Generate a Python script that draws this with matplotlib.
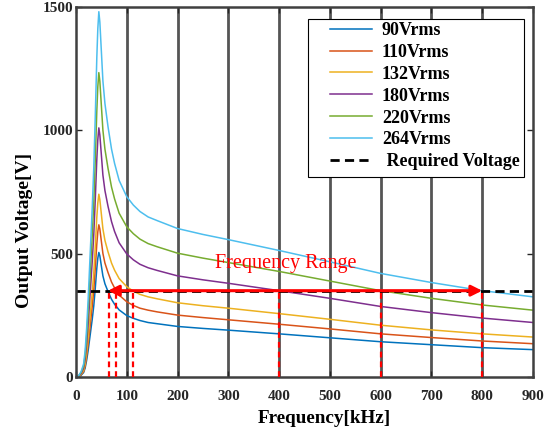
import matplotlib
matplotlib.use("Agg")
import matplotlib.pyplot as plt
from matplotlib.patches import Rectangle

plt.rcParams['font.family'] = ['Liberation Serif', 'DejaVu Serif']

# frequency points (kHz)
freq = [0, 5, 10, 15, 18, 21, 24, 26, 28, 30, 32, 35, 38, 41, 43, 45, 47, 50, 53, 57,
        63, 70, 76, 85, 100, 113, 126, 142, 160, 200, 250, 300, 400, 500, 600, 700, 800, 900]

# output voltage (V) for each input voltage
v90 = [0, 2, 7, 18, 36, 68, 108, 140, 171, 203, 234, 288, 360, 441, 482, 505, 491, 450, 410, 378,
       347, 315, 295, 272, 249, 238, 229, 221, 216, 205, 197, 190, 175, 159, 143, 131, 119, 111]
v110 = [0, 2, 9, 22, 44, 83, 132, 171, 209, 248, 286, 352, 440, 539, 589, 617, 600, 550, 501, 462,
        424, 385, 361, 332, 305, 290, 279, 271, 264, 251, 241, 232, 214, 195, 175, 160, 146, 135]
v132 = [0, 3, 11, 26, 53, 99, 158, 205, 251, 297, 343, 422, 528, 647, 706, 741, 719, 660, 601, 554,
        508, 462, 433, 399, 366, 348, 335, 325, 317, 301, 289, 279, 257, 234, 210, 191, 175, 162]
v180 = [0, 4, 14, 36, 72, 135, 216, 279, 342, 405, 468, 576, 720, 882, 963, 1010, 981, 900, 819, 756,
        693, 630, 590, 544, 499, 475, 457, 443, 432, 410, 394, 380, 350, 319, 286, 261, 239, 221]
v220 = [0, 4, 18, 44, 88, 165, 264, 341, 418, 495, 572, 704, 880, 1078, 1177, 1234, 1199, 1100, 1001, 924,
        847, 770, 722, 664, 609, 581, 559, 541, 528, 502, 482, 464, 428, 389, 350, 319, 292, 271]
v264 = [0, 5, 21, 53, 106, 198, 317, 409, 502, 594, 686, 845, 1056, 1294, 1412, 1481, 1439, 1320, 1201, 1109,
        1016, 924, 866, 797, 731, 697, 671, 649, 634, 602, 578, 557, 513, 467, 420, 383, 350, 325]

series = [v90, v110, v132, v180, v220, v264]
labels = ['90Vrms', '110Vrms', '132Vrms', '180Vrms', '220Vrms', '264Vrms']
colors = ['#0072BD', '#D95319', '#EDB120', '#7E2F8E', '#77AC30', '#4DBEEE']

required_v = 350
range_lo, range_hi = 63, 800
cross_freqs = [65, 79, 113, 400, 600, 800]

fig = plt.figure(figsize=(5.53, 4.36), dpi=100)
ax = fig.add_axes([0.1374, 0.1353, 0.8264, 0.8486])

# vertical grid
for x in range(100, 900, 100):
    ax.axvline(x, color='#555555', lw=2.0, zorder=0)

for v, lab, c in zip(series, labels, colors):
    ax.plot(freq, v, color=c, lw=1.1, label=lab)

ax.plot([0, 900], [required_v, required_v], color='black', lw=2.0,
        linestyle=(0, (3.3, 1.9)), label=' Required Voltage', zorder=2)

for f in cross_freqs:
    ax.plot([f, f], [0, required_v], color='red', lw=1.6,
            linestyle=(0, (2.6, 1.8)), zorder=3)

ax.annotate('', xy=(range_lo, required_v), xytext=(range_hi, required_v),
            arrowprops=dict(arrowstyle='<|-|>', color='red', lw=2.2,
                            mutation_scale=16, shrinkA=0, shrinkB=0), zorder=4)
ax.text(414, 462, 'Frequency Range', color='red', fontsize=14.5,
        ha='center', va='center')

ax.set_xlim(0, 900)
ax.set_ylim(0, 1500)
ax.set_xticks(range(0, 1000, 100))
ax.set_yticks([0, 500, 1000, 1500])
ax.tick_params(direction='in', length=4, width=1, top=True, right=True,
               labelsize=11, colors='#262626')
ax.tick_params(axis='x', pad=9)
ax.tick_params(axis='y', pad=2)
for t in ax.get_xticklabels() + ax.get_yticklabels():
    t.set_fontweight('bold')
for s in ax.spines.values():
    s.set_color('#404040')
    s.set_linewidth(1.8)

ax.set_xlabel('Frequency[kHz]', fontsize=13.8, fontweight='bold')
ax.set_ylabel('Output Voltage[V]', fontsize=14, fontweight='bold')
ax.xaxis.set_label_coords(0.5427, -0.089)
ax.yaxis.set_label_coords(-0.094, 0.397)

# legend frame drawn separately (wider left margin than matplotlib gives)
ax.add_patch(Rectangle((0.5077, 0.5405), 0.4726, 0.4271, transform=ax.transAxes,
                       facecolor='white', edgecolor='black', lw=0.8, zorder=5))
leg = ax.legend(loc='upper left', bbox_to_anchor=(0.5558, 0.9595), borderaxespad=0,
                prop={'weight': 'bold', 'size': 13}, frameon=False,
                handlelength=2.33, handletextpad=0.55, labelspacing=0.27, borderpad=0)
leg.set_zorder(6)

fig.savefig('out.png', dpi=100)
